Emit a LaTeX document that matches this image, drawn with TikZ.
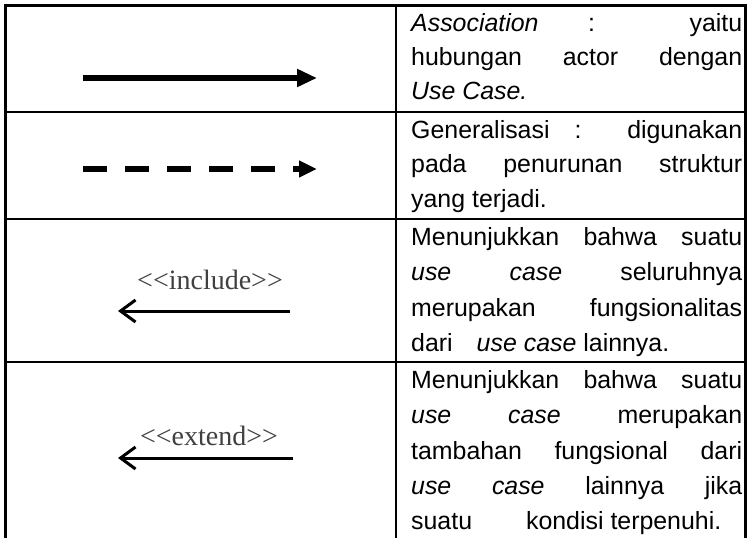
\documentclass[tikz,border=0pt]{standalone}
\usepackage{fontspec}
\setmainfont{Liberation Sans}
\newfontfamily\timesfont{Liberation Serif}
\usetikzlibrary{arrows.meta}
\newcommand\jline[1]{\makebox[331pt][s]{#1}}
\begin{document}
\begin{tikzpicture}[x=1pt,y=-1pt,
  txt/.style={anchor=base west, inner sep=0pt, font=\fontsize{24.9}{30}\selectfont},
  stereo/.style={inner sep=0pt, font=\timesfont\fontsize{28}{30}\selectfont, text=black!75},
  rule/.style={line width=2.5pt},
  outer/.style={line width=3pt},
  solidarrow/.style={line width=6pt, -{Triangle[length=20pt,width=17pt]}},
  dasharrow/.style={line width=6pt, dash pattern=on 24pt off 18pt, -{Triangle[length=18pt,width=16pt]}},
  relarrow/.style={line width=3pt, -{Straight Barb[length=15pt,width=22pt]}},
]
\useasboundingbox (0,0) rectangle (748,538);
% table
\coordinate (tl) at (5,5);
\coordinate (tr) at (745,5);
\coordinate (bl) at (5,540);
\coordinate (br) at (745,540);
\coordinate (dt) at (396,5);
\coordinate (db) at (396,540);
\draw[outer] (bl) -- (tl) -- (tr) -- (br);
\draw[rule] (dt) -- (db);
\foreach \y/\n in {112/h1,219/h2,362/h3}{
  \coordinate (\n l) at (5,\y);
  \coordinate (\n r) at (745,\y);
  \draw[rule] (\n l) -- (\n r);
}
% row 1
\coordinate (a1s) at (83,78);
\coordinate (a1e) at (317,78);
\draw[solidarrow] (a1s) -- (a1e);
\node[txt] (t1a) at (411,31) {\jline{\textit{Association} : yaitu}};
\node[txt] (t1b) at (411,65) {\jline{hubungan actor dengan}};
\node[txt] (t1c) at (411,99) {\textit{Use Case.}};
% row 2
\coordinate (a2s) at (83,169);
\coordinate (a2e) at (317,169);
\draw[dasharrow] (a2s) -- (a2e);
\node[txt] (t2a) at (411,138) {\jline{Generalisasi : digunakan}};
\node[txt] (t2b) at (411,172) {\jline{pada penurunan struktur}};
\node[txt] (t2c) at (411,207) {yang terjadi.};
% row 3
\node[stereo] (inc) at (210,280) {<\kern0pt<include>\kern0pt>};
\coordinate (a3s) at (290,311);
\coordinate (a3e) at (118,311);
\draw[relarrow] (a3s) -- (a3e);
\node[txt] (t3a) at (411,245) {\jline{Menunjukkan bahwa suatu}};
\node[txt] (t3b) at (411,280) {\jline{\textit{use} \textit{case} seluruhnya}};
\node[txt] (t3c) at (411,316) {\jline{merupakan fungsionalitas}};
\node[txt] (t3d) at (411,351) {dari\hspace{24pt}\textit{use}\hspace{7pt}\textit{case} lainnya.};
% row 4
\node[stereo] (ext) at (209,436) {<\kern0pt<extend>\kern0pt>};
\coordinate (a4s) at (293,458);
\coordinate (a4e) at (118,458);
\draw[relarrow] (a4s) -- (a4e);
\node[txt] (t4a) at (411,388) {\jline{Menunjukkan bahwa suatu}};
\node[txt] (t4b) at (411,423) {\jline{\textit{use} \textit{case} merupakan}};
\node[txt] (t4c) at (411,459) {\jline{tambahan fungsional dari}};
\node[txt] (t4d) at (411,494) {\jline{\textit{use} \textit{case} lainnya jika}};
\node[txt] (t4e) at (411,529) {suatu\hspace{54pt}kondisi terpenuhi.};
\end{tikzpicture}
\end{document}
